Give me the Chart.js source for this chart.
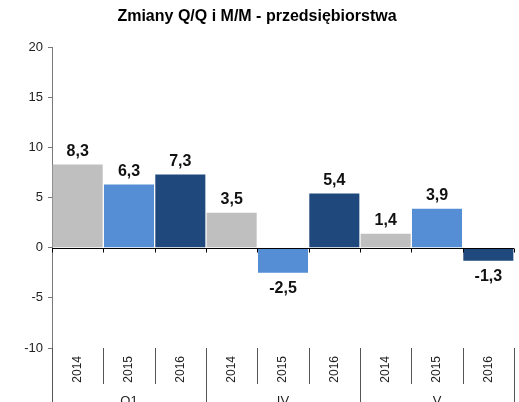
<!DOCTYPE html>
<html>
<head>
<meta charset="utf-8">
<script src="https://cdn.jsdelivr.net/npm/chart.js@4.4.0/dist/chart.umd.min.js"></script>
<style>
  html, body { margin: 0; padding: 0; background: #fff; }
  #wrap { width: 519px; height: 402px; }
</style>
</head>
<body>
<div id="wrap"><canvas id="grafico"></canvas></div>
<script>
const tytul = "Zmiany Q/Q i M/M - przedsiębiorstwa";
const lata = ["2014", "2015", "2016", "2014", "2015", "2016", "2014", "2015", "2016"];
const grupy = ["Q1", "IV", "V"];
const wartosci = [8.3, 6.3, 7.3, 3.5, -2.5, 5.4, 1.4, 3.9, -1.3];
const kolorRoku = { "2014": "#BFBFBF", "2015": "#558ED5", "2016": "#1F497D" };
const osY = { min: -10, max: 20, krok: 5 };

Chart.defaults.font.family = "'Liberation Sans', Arial, sans-serif";
Chart.defaults.color = "#222";

const formatuj = (v) => v.toFixed(1).replace(".", ",");

// linia zera, kreski przy zerze i separatory kategorii pod wykresem
const separatory = {
  id: "separatory",
  afterDatasetsDraw(chart) {
    const { ctx, chartArea, scales } = chart;
    const x = scales.x, y = scales.y;
    const szer = x.getPixelForValue(1) - x.getPixelForValue(0);
    const y0 = Math.round(y.getPixelForValue(0)) + 0.5;
    ctx.save();
    ctx.lineWidth = 1;
    ctx.strokeStyle = "#000";
    ctx.beginPath();
    ctx.moveTo(chartArea.left, y0);
    ctx.lineTo(chartArea.right, y0);
    ctx.stroke();
    for (let i = 0; i <= lata.length; i++) {
      const px = Math.round(x.getPixelForValue(0) - szer / 2 + i * szer) + 0.5;
      ctx.strokeStyle = "#000";
      ctx.beginPath();
      ctx.moveTo(px, y0);
      ctx.lineTo(px, y0 + 4);
      ctx.stroke();
      const dol = i % 3 === 0 ? chart.height : chartArea.bottom + 36;
      ctx.strokeStyle = "#555";
      ctx.beginPath();
      ctx.moveTo(px, chartArea.bottom);
      ctx.lineTo(px, dol);
      ctx.stroke();
    }
    ctx.restore();
  }
};

// etykiety wartości nad / pod słupkami
const etykiety = {
  id: "etykiety",
  afterDatasetsDraw(chart) {
    const { ctx } = chart;
    const meta = chart.getDatasetMeta(0);
    ctx.save();
    ctx.font = "bold 16px 'Liberation Sans', Arial, sans-serif";
    ctx.fillStyle = "#111";
    ctx.textAlign = "center";
    ctx.textBaseline = "middle";
    meta.data.forEach((el, i) => {
      const v = wartosci[i];
      const yy = v >= 0 ? el.y - 13 : el.y + 16;
      ctx.fillText(formatuj(v), el.x, yy);
    });
    ctx.restore();
  }
};

new Chart(document.getElementById("grafico"), {
  type: "bar",
  data: {
    labels: lata,
    datasets: [{
      data: wartosci,
      backgroundColor: lata.map((r) => kolorRoku[r]),
      borderWidth: 0,
      barPercentage: 0.975,
      categoryPercentage: 1
    }]
  },
  options: {
    responsive: true,
    maintainAspectRatio: false,
    animation: false,
    layout: { padding: { left: 0, right: 5, top: 0, bottom: 0 } },
    plugins: {
      legend: { display: false },
      tooltip: { enabled: false },
      title: {
        display: true,
        text: tytul,
        color: "#000",
        font: { size: 16, weight: "bold" },
        padding: { top: 7, bottom: 21 }
      }
    },
    scales: {
      x: {
        grid: { display: false, drawTicks: false },
        border: { display: false },
        ticks: { autoSkip: false, minRotation: 90, maxRotation: 90, padding: 8, font: { size: 12 }, color: "#222" },
        afterFit: (s) => { s.height = 44; }
      },
      x2: {
        type: "category",
        labels: grupy,
        position: "bottom",
        grid: { display: false, drawTicks: false },
        border: { display: false },
        ticks: { padding: 2, font: { size: 13 }, color: "#222" },
        afterFit: (s) => { s.height = 10; }
      },
      y: {
        min: osY.min,
        max: osY.max,
        ticks: { stepSize: osY.krok, padding: 5, font: { size: 13 }, color: "#222" },
        grid: { drawOnChartArea: false, drawTicks: true, tickLength: 4, color: "#777" },
        border: { color: "#777" },
        afterFit: (s) => { s.width = 52; }
      }
    }
  },
  plugins: [separatory, etykiety]
});
</script>
</body>
</html>
